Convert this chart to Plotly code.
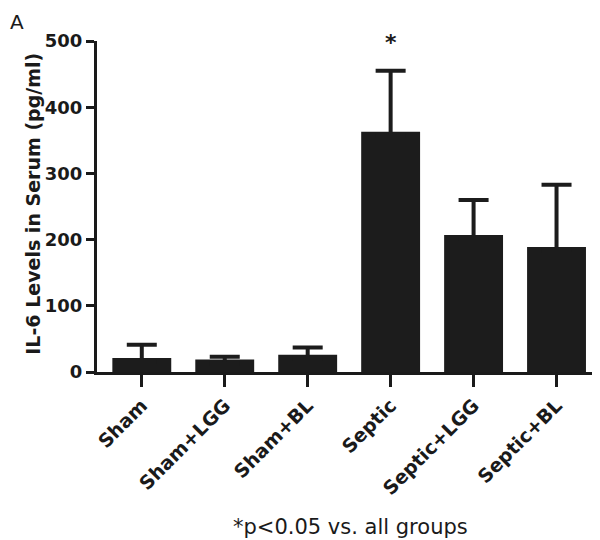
import plotly.graph_objects as go

groups = ["Sham", "Sham+LGG", "Sham+BL", "Septic", "Septic+LGG", "Septic+BL"]
il6_mean = [21, 19, 26, 363, 207, 189]
il6_sem = [20, 4, 11, 92, 53, 94]
y_ticks = [0, 100, 200, 300, 400, 500]

# lower error-bar cap is tucked inside the bar (hidden, same colour)
CAP_HIDE = 6

BOLD = dict(family="DejaVu Sans", weight="bold", color="#1a1a1a")

fig = go.Figure()
fig.add_trace(go.Bar(
    x=groups, y=il6_mean, width=0.71,
    marker=dict(color="#1c1c1c", line=dict(width=0)),
    error_y=dict(type="data", array=il6_sem, arrayminus=[CAP_HIDE] * len(groups),
                 symmetric=False, color="#1c1c1c", thickness=4, width=15),
))

fig.update_layout(
    width=592, height=532,
    margin=dict(l=89, r=2, t=33, b=168, autoexpand=False),
    paper_bgcolor="white", plot_bgcolor="white",
    showlegend=False,
    xaxis=dict(type="category", range=[-0.54, 5.5], showline=True, linewidth=3,
               linecolor="#1a1a1a", ticks="outside", ticklen=12, tickwidth=3,
               tickcolor="#1a1a1a", tickangle=-45, showgrid=False, automargin=False,
               tickfont=dict(size=19, **BOLD)),
    yaxis=dict(range=[0, 500], tickvals=y_ticks, showline=True, linewidth=3,
               linecolor="#1a1a1a", ticks="outside", ticklen=8, tickwidth=3,
               tickcolor="#1a1a1a", showgrid=False, zeroline=False, automargin=False,
               tickfont=dict(size=18, **BOLD)),
    annotations=[
        dict(text="IL-6 Levels in Serum (pg/ml)", textangle=-90, xref="paper", yref="paper",
             x=-0.128, y=0.508, xanchor="center", yanchor="middle", showarrow=False,
             font=dict(size=19, **BOLD)),
        dict(text="A", xref="paper", yref="paper", x=-0.1776, y=1.0997, xanchor="left",
             yanchor="top", showarrow=False,
             font=dict(family="DejaVu Sans", size=20, color="#1a1a1a")),
        dict(text="*", x="Septic", y=il6_mean[3] + il6_sem[3], xref="x", yref="y",
             yanchor="bottom", yshift=14, showarrow=False,
             font=dict(size=22, **BOLD)),
        dict(text="*p<0.05 vs. all groups", xref="paper", yref="paper", x=0.505, y=-0.468,
             xanchor="center", yanchor="middle", showarrow=False,
             font=dict(family="DejaVu Sans", size=21, color="#1a1a1a")),
    ],
)

fig.write_html("out.html")
